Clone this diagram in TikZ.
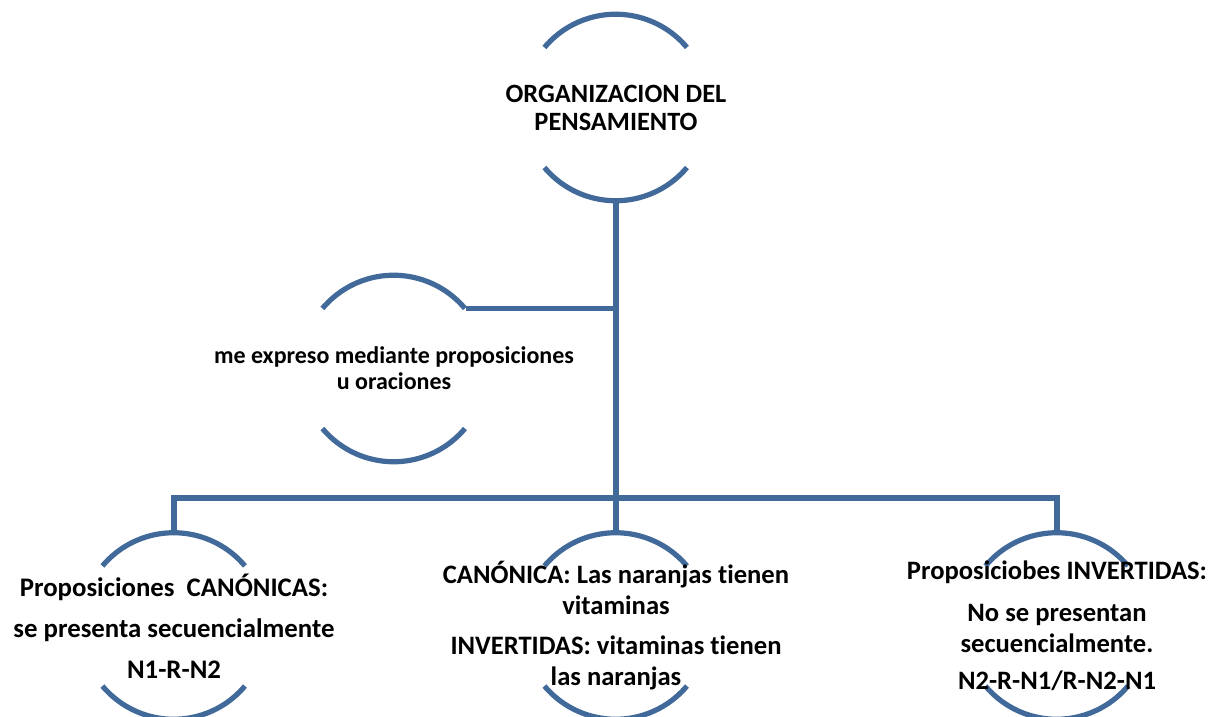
\documentclass[tikz,border=0pt]{standalone}
\usepackage{fontspec}
\setmainfont{Carlito}[Ligatures=NoCommon]
\usepackage{tikz}
\usepackage{xcolor}
\definecolor{linea}{RGB}{65,106,155}

\begin{document}
\begin{tikzpicture}[x=0.5pt, y=0.5pt,
    circ/.style={circle, minimum size=93pt, inner sep=0pt},
    arco/.style={draw=linea, line width=2.6pt},
    conn/.style={draw=linea, line width=2.6pt},
    txt/.style={align=center, font=\bfseries\fontsize{#1}{15}\selectfont}]
                        \clip (0, 0) rectangle (1212, 717);
                        \node[circ] (org) at (616, 609.5) {};
                        \node[circ] (med) at (394, 348.5) {};
                        \node[circ] (can) at (174, 91) {};
                        \node[circ] (ej) at (616, 91) {};
                        \node[circ] (inv) at (1057, 91) {};
                        \coordinate (bar) at (616, 219);
                        % arcos de cada circulo
                        \foreach \n in {org, med, can, ej, inv} {
                            \draw[arco] (\n.140) arc[start angle=140, end angle=40, radius=46.5pt];
                            \draw[arco] (\n.220) arc[start angle=220, end angle=320, radius=46.5pt];
                        }
                        \node[txt=13.2] (orgtxt) at (org.center) {ORGANIZACION DEL\\[-1pt]PENSAMIENTO};
                        \node[txt=12] (medtxt) at (med.center) {me expreso mediante proposiciones\\[-2pt]u oraciones};
                        \node[txt=13.4] (cantxt) at (can.center) {Proposiciones\ \ CANÓNICAS:\\[5.5pt]se presenta secuencialmente\\[5.5pt]N1-R-N2};
                        \node[txt=13.3] (ejtxt) at (ej.center) {CANÓNICA: Las naranjas tienen\\[0.5pt]vitaminas\\[5pt]INVERTIDAS: vitaminas tienen\\[0.5pt]las naranjas};
                        \node[txt=13.3] (invtxt) at (inv.center) {Proposiciobes INVERTIDAS:\\[6pt]No se presentan\\[0.5pt]secuencialmente.\\[3.5pt]N2-R-N1/R-N2-N1};
                        \draw[conn]
                        (org.south) -- (ej.north)
                        (med.40) -- (med.40 -| org.south)
                        (can.north) |- (bar) -| (inv.north);
                    \end{tikzpicture}
\end{document}
